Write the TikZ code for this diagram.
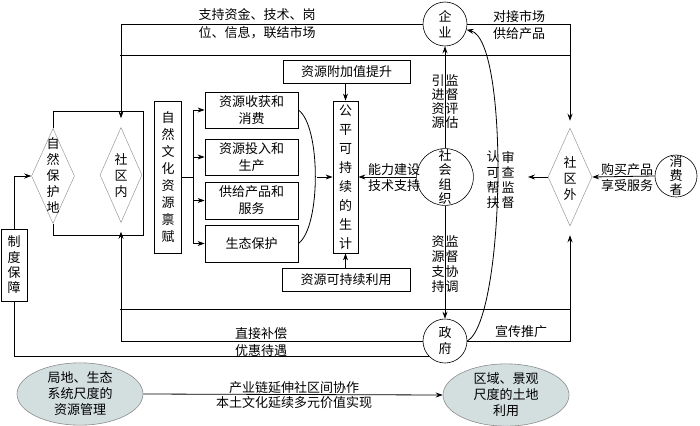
\documentclass[tikz,border=0pt]{standalone}
\usepackage{fontspec}
\setmainfont{Noto Sans CJK SC}
\usetikzlibrary{arrows.meta,shapes.geometric}
\definecolor{ellfill}{HTML}{D3DEDF}
\begin{document}
\begin{tikzpicture}[x=1pt,y=-1pt,
  every node/.style={font=\fontsize{13}{17}\selectfont, inner sep=0pt, align=center},
  line/.style={draw=black, line width=0.8pt},
  arr/.style={line, -{Stealth[length=7pt,width=5pt]}},
  box/.style={draw=black, line width=0.8pt, minimum width=#1},
  circ/.style={circle, draw=black, line width=0.6pt, minimum size=#1},
  dia/.style={diamond, draw=black!40, line width=0.5pt},
  ell/.style={ellipse, draw=black!45, line width=0.6pt, fill=ellfill, minimum width=126pt, minimum height=58pt},
  vt/.style={font=\fontsize{13}{#1}\selectfont}
]
\useasboundingbox (0,0) rectangle (700,425);

% circles
\node[circ=44pt, vt=16] (qy) at (445,24) {企\\业};
\node[circ=48pt, vt=14.5] (shzz) at (445,177) {社\\会\\组\\织};
\node[circ=44pt, vt=16] (zf) at (445,341) {政\\府};
\node[circ=42pt, vt=14] (xfz) at (676,176) {消\\费\\者};

% diamonds
\node[dia, minimum width=43pt, minimum height=95pt] (zrbhd) at (53,176) {};
\node[vt=16] (zrbhdt) at (53,175) {自\\然\\保\\护\\地};
\node[dia, minimum width=42pt, minimum height=95pt] (sqn) at (121,175) {};
\node[vt=16] (sqnt) at (121,176) {社\\区\\内};
\node[dia, minimum width=44pt, minimum height=98pt] (sqw) at (570,177) {};
\node[vt=16] (sqwt) at (570,179) {社\\区\\外};

% boxes
\node[box=26pt, minimum height=72pt, vt=15.3] (zdbz) at (14,265) {制\\度\\保\\障};
\node[box=27pt, minimum height=152pt, vt=17] (zrwh) at (168,177) {自\\然\\文\\化\\资\\源\\禀\\赋};
\node[box=93pt, minimum height=36pt] (b1) at (251.5,110) {资源收获和\\消费};
\node[box=93pt, minimum height=36pt] (b2) at (251.5,157) {资源投入和\\生产};
\node[box=93pt, minimum height=37pt] (b3) at (251.5,200.5) {供给产品和\\服务};
\node[box=93pt, minimum height=37pt] (b4) at (251.5,243.5) {生态保护};
\node[box=25pt, minimum height=152pt, vt=19] (gp) at (345.5,177) {公\\平\\可\\持\\续\\的\\生\\计};
\node[box=127pt, minimum height=23pt] (fjz) at (346.5,72) {资源附加值提升};
\node[box=128pt, minimum height=23pt] (kcx) at (346,280) {资源可持续利用};

% ellipses
\node[ell, vt=16] (el1) at (80,394) {局地、生态\\系统尺度的\\资源管理};
\node[ell, vt=16] (el2) at (506,395) {区域、景观\\尺度的土地\\利用};

% junction coordinates
\coordinate (j1) at (120,55);
\coordinate (j2) at (570,55);
\coordinate (j3) at (120,309);
\coordinate (j4) at (570,309);
\coordinate (bus) at (193,177);
\coordinate (brk) at (317,177);
\coordinate (sqwl) at (528,177);

% top connectors
\draw[arr, shorten >=9pt] (qy.west) -| (sqn.north);
\draw[arr, shorten >=7pt] (qy.east) -| (sqw.north);
\draw[line] (j1) -- (j2);
\draw[arr] (shzz.north) -- (qy.south);
\draw[arr] (shzz.south) -- (zf.north);
\draw[arr] (shzz.west) -- (gp.east);
\draw[arr] (xfz.west) -- (sqw.east);
\draw[arr] (sqw.west) -- (sqwl);
\draw[arr] (zf.east) .. controls (505,320) and (510,40) .. (qy.-15);

% bottom connectors
\draw[arr, shorten >=9pt] (zf.east) -| (sqw.south);
\draw[line] (j3) -- (j4);
\draw[arr, shorten >=9pt] (zf.west) -| (sqn.south);
\draw[line] (zf.225) -| (zdbz.south);
\draw[arr] (zdbz.north) |- (zrbhd.west);

% rectangle around left diamonds
\draw[line] (zrbhd.north) -- ++(0,-17) -| (143,235) -| (zrbhd.south);

% resource endowment bus
\draw[line] (zrwh.east) -- (bus);
\draw[arr] (bus) |- (b1.west);
\draw[arr] (bus) |- (b2.west);
\draw[arr] (bus) |- (b3.west);
\draw[arr] (bus) |- (b4.west);
\draw[line] (b1.east) .. controls (321,126) and (321,227) .. (b4.east);
\draw[arr] (brk) -- (gp.west);
\draw[arr] (gp.north |- fjz.south) -- (gp.north);
\draw[arr] (gp.south |- kcx.north) -- (gp.south);

\draw[arr] (el1.east) -- (el2.west);

% labels
\node[vt=18] (l1) at (257,24) {支持资金、技术、岗\\位、信息，联结市场};
\node (l2) at (519,25) {对接市场\\供给产品};
\node[vt=14] (l3) at (438,102) {引\\进\\资\\源};
\node[vt=14] (l4) at (452,102) {监\\督\\评\\估};
\node[vt=15] (l5) at (438,264) {资\\源\\支\\持};
\node[vt=15] (l6) at (452,264) {监\\督\\协\\调};
\node[vt=15.3] (l7) at (493,180) {认\\可\\帮\\扶};
\node[vt=15.3] (l8) at (508,180) {审\\查\\监\\督};
\node[vt=16] (l9) at (394,177.5) {能力建设\\技术支持};
\node[vt=16] (l10) at (627,178) {购买产品\\享受服务};
\node (l11) at (261,334) {直接补偿};
\node (l12) at (261,351) {优惠待遇};
\node (l13) at (521,332) {宣传推广};
\node[vt=15] (l14) at (294,395.5) {产业链延伸社区间协作\\本土文化延续多元价值实现};
\end{tikzpicture}
\end{document}
